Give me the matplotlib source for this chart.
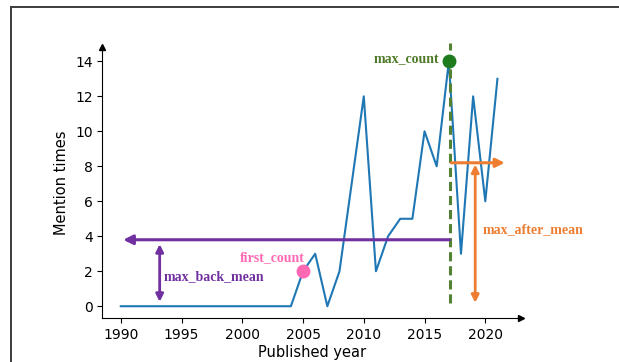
import matplotlib
matplotlib.use("Agg")
import matplotlib.pyplot as plt
from matplotlib.lines import Line2D

# Yearly mention counts
years = list(range(1990, 2022))
counts = [0] * 15 + [2, 3, 0, 2, 7, 12, 2, 4, 5, 5, 10, 8, 14, 3, 12, 6, 13]

first_year, first_value = 2005, 2
max_year, max_value = 2017, 14
back_mean = 3.8
after_mean = 8.2

xticks = [1990, 1995, 2000, 2005, 2010, 2015, 2020]
yticks = [0, 2, 4, 6, 8, 10, 12, 14]

PURPLE = "#7030A0"
ORANGE = "#ED7D31"
PINK = "#FF69B4"
GREEN_DOT = "#1E7B1E"
GREEN_LINE = "#548235"
GREEN_TEXT = "#4F7A28"
serif = ["Liberation Serif", "DejaVu Serif"]

fig = plt.figure(figsize=(6.19, 3.62), dpi=100)
ax = fig.add_axes([0.1653, 0.1207, 0.6764, 0.7495])

ax.plot(years, counts, color="#1f77b4", lw=1.5, zorder=2)

ax.set_xlim(1988.48, 2022.94)
ax.set_ylim(-0.69, 14.82)
ax.set_xticks(xticks)
ax.set_yticks(yticks)
ax.tick_params(labelsize=10)
ax.set_xlabel("Published year", fontsize=10.5, labelpad=2)
ax.set_ylabel("Mention times", fontsize=10.5)

for side in ("top", "right"):
    ax.spines[side].set_visible(False)
ax.plot(1, 0, ">k", ms=5, transform=ax.transAxes, clip_on=False)
ax.plot(0, 1, "^k", ms=5, transform=ax.transAxes, clip_on=False)

# Peak year marker line
ax.plot([max_year + 0.07, max_year + 0.07], [0.17, 15.04], color=GREEN_LINE,
        lw=2.2, ls=(0, (3, 1.6)), clip_on=False, zorder=3)

# Mean before the peak
ax.annotate("", xy=(1990.2, back_mean), xytext=(max_year + 0.05, back_mean),
            arrowprops=dict(arrowstyle="-|>", color=PURPLE, lw=2.2,
                            mutation_scale=14, shrinkA=0, shrinkB=0))
ax.annotate("", xy=(1993.2, 3.55), xytext=(1993.2, 0.25),
            arrowprops=dict(arrowstyle="<|-|>", color=PURPLE, lw=2.0,
                            mutation_scale=11, shrinkA=0, shrinkB=0))
ax.text(1993.5, 1.67, "max_back_mean", color=PURPLE, fontsize=10,
        fontweight="bold", family=serif, va="center", ha="left")

# Mean after the peak
ax.annotate("", xy=(2021.6, after_mean), xytext=(2017.2, after_mean),
            arrowprops=dict(arrowstyle="-|>", color=ORANGE, lw=2.2,
                            mutation_scale=13, shrinkA=0, shrinkB=0),
            annotation_clip=False)
ax.annotate("", xy=(2019.17, 8.1), xytext=(2019.17, 0.2),
            arrowprops=dict(arrowstyle="<|-|>", color=ORANGE, lw=2.0,
                            mutation_scale=11, shrinkA=0, shrinkB=0))
ax.text(2019.8, 4.4, "max_after_mean", color=ORANGE, fontsize=10,
        fontweight="bold", family=serif, va="center", ha="left")

# First and maximum counts
ax.plot(first_year, first_value, "o", color=PINK, ms=9, zorder=4)
ax.text(2002.5, 2.8, "first_count", color=PINK, fontsize=10,
        fontweight="bold", family=serif, va="center", ha="center")
ax.plot(max_year, max_value, "o", color=GREEN_DOT, ms=9, zorder=4, clip_on=False)
ax.text(2016.2, 14.07, "max_count", color=GREEN_TEXT, fontsize=10,
        fontweight="bold", family=serif, va="center", ha="right")

# Outer frame
fig.add_artist(Line2D([11 / 619, 1], [1 - 7 / 362, 1 - 7 / 362],
                      color="#3c3c3c", lw=1.4, transform=fig.transFigure))
fig.add_artist(Line2D([11 / 619, 11 / 619], [0, 1 - 7 / 362],
                      color="#3c3c3c", lw=1.4, transform=fig.transFigure))

fig.savefig("out.png", dpi=100)
